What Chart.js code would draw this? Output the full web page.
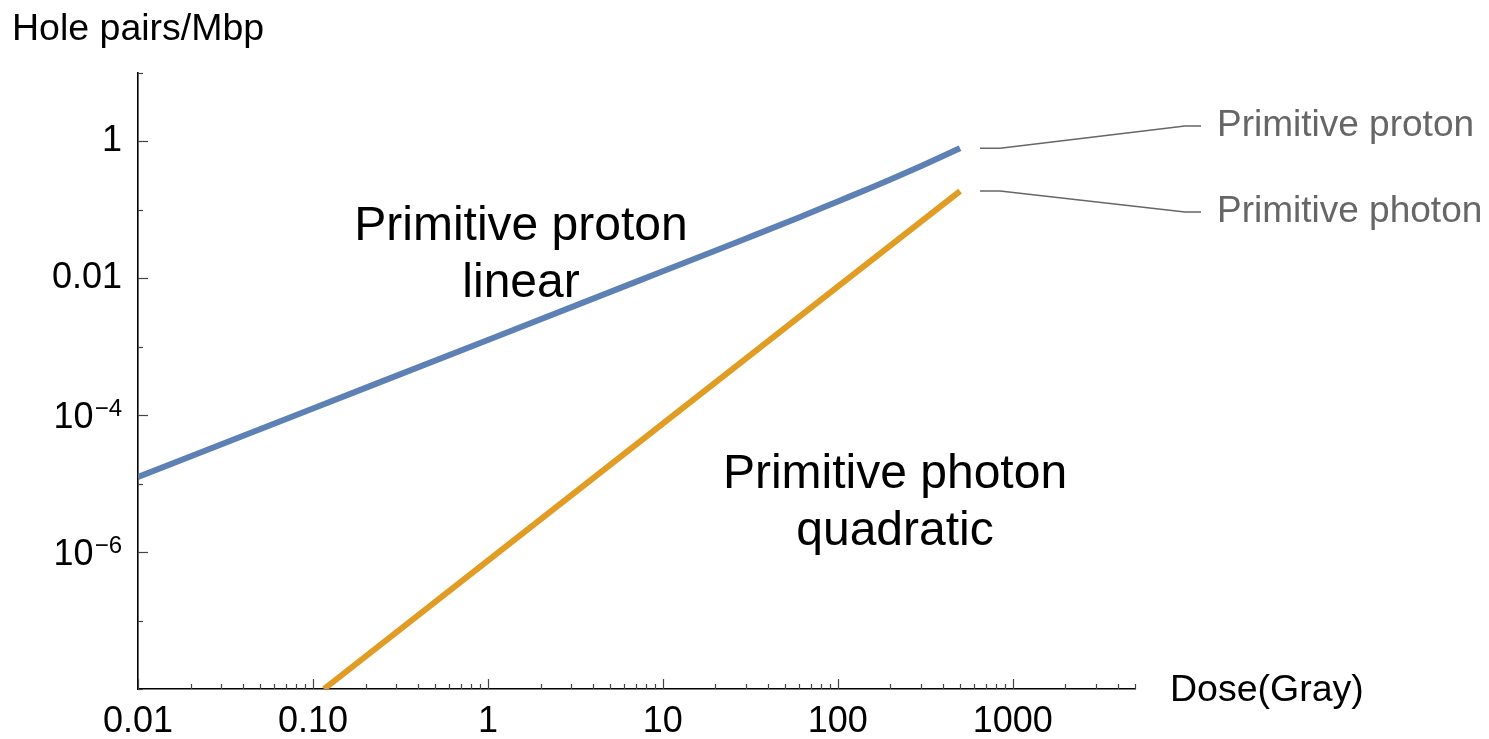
<!DOCTYPE html>
<html><head><meta charset="utf-8">
<script src="https://cdn.jsdelivr.net/npm/chart.js@4/dist/chart.umd.min.js"></script>
<style>html,body{margin:0;padding:0;background:#fff}canvas{display:block}</style>
</head><body>
<canvas id="c" width="1489" height="739"></canvas>
<script>
// ---- data ----
const doseProton  = [0.01, 0.1, 1, 10, 30, 60, 100, 150, 200, 300, 400, 500];
const holesProton = [1.25e-5, 1.25e-4, 1.25e-3, 0.0126, 0.038, 0.077, 0.132, 0.202, 0.276, 0.434, 0.606, 0.79];
const dosePhoton  = [0.1156, 1, 10, 100, 500];
const holesPhoton = [1e-8, 7.5e-7, 7.5e-5, 7.5e-3, 0.187];

const seriesNames = ['Primitive proton', 'Primitive photon'];
const xMajorTicks = [0.01, 0.1, 1, 10, 100, 1000];
const xTickLabels = ['0.01', '0.10', '1', '10', '100', '1000'];
const yMajorTicks = [1e-6, 1e-4, 1e-2, 1];
const yTickLabels = ['10^-6', '10^-4', '0.01', '1'];
const yMinorTicks = [1e-8, 1e-7, 1e-5, 1e-3, 0.1, 10];
const xRange = [0.01, 5000];
const yRange = [1e-8, 10];

const FONT = "'Liberation Sans', Arial, sans-serif";
const BLUE = '#5E81B5', ORANGE = '#E19C24';
const SUP = {'-': '\u207B', '0': '\u2070', '1': '\u00B9', '2': '\u00B2', '3': '\u00B3', '4': '\u2074', '5': '\u2075', '6': '\u2076', '7': '\u2077', '8': '\u2078', '9': '\u2079'};

const xAllTicks = [];
for (let e = -2; e <= 3; e++) for (let m = 1; m <= 9; m++) {
  const v = +(m * Math.pow(10, e)).toPrecision(6);
  if (v <= xRange[1]) xAllTicks.push(v);
}
const yAllTicks = [...yMinorTicks, ...yMajorTicks].sort((a, b) => a - b);
const near = (a, b) => Math.abs(a - b) / b < 1e-6;
const isDecade = v => Math.abs(Math.log10(v) - Math.round(Math.log10(v))) < 1e-9;
const yLabelRaw = v => { const i = yMajorTicks.findIndex(m => near(v, m)); return i >= 0 ? yTickLabels[i] : ''; };
const toUnicode = s => s.includes('^') ? s.split('^')[0] + s.split('^')[1].split('').map(ch => SUP[ch] || ch).join('') : s;

const decorations = {
  id: 'decorations',
  afterDraw(chart) {
    const {ctx, chartArea: a, scales: {x, y}} = chart;
    ctx.save();
    // inward ticks
    ctx.strokeStyle = '#444';
    ctx.lineWidth = 1.2;
    x.ticks.forEach(t => {
      const px = Math.round(x.getPixelForValue(t.value)) + 0.5;
      const len = isDecade(t.value) ? 10 : 5;
      ctx.beginPath(); ctx.moveTo(px, a.bottom); ctx.lineTo(px, a.bottom - len); ctx.stroke();
    });
    y.ticks.forEach(t => {
      const py = Math.round(y.getPixelForValue(t.value)) + 0.5;
      const len = yMajorTicks.some(m => near(t.value, m)) ? 10 : 5;
      ctx.beginPath(); ctx.moveTo(a.left, py); ctx.lineTo(a.left + len, py); ctx.stroke();
    });

    // power-of-ten tick labels with real superscripts
    ctx.fillStyle = '#000';
    ctx.textBaseline = 'alphabetic';
    ctx.textAlign = 'right';
    y.ticks.forEach(t => {
      const raw = yLabelRaw(t.value);
      if (!raw.includes('^')) return;
      const [base, exp] = raw.split('^');
      const py = y.getPixelForValue(t.value);
      const expText = exp.replace('-', '\u2212');
      const right = a.left - 16;
      ctx.font = '24px ' + FONT;
      const ew = ctx.measureText(expText).width;
      ctx.fillText(expText, right, py + 1);
      ctx.font = '36px ' + FONT;
      ctx.fillText(base, right - ew - 1, py + 13);
    });

    // axis titles
    ctx.textAlign = 'left';
    ctx.font = '37.5px ' + FONT;
    ctx.fillText('Hole pairs/Mbp', 12, 40);
    ctx.fillText('Dose(Gray)', 1170, 701);

    // in-plot annotations
    ctx.font = '48px ' + FONT;
    ctx.textAlign = 'center';
    ctx.fillText('Primitive proton', 521, 240);
    ctx.fillText('linear', 521, 297);
    ctx.fillText('Primitive photon', 895, 488);
    ctx.fillText('quadratic', 895, 545);

    // right-side labels with leader lines
    const ends = chart.data.datasets.map(ds => {
      const p = ds.data[ds.data.length - 1];
      return {px: x.getPixelForValue(p.x), py: y.getPixelForValue(p.y)};
    });
    const labelY = [126, 212];
    ctx.strokeStyle = '#666';
    ctx.lineWidth = 1.5;
    ctx.font = '37px ' + FONT;
    ctx.textAlign = 'left';
    ctx.textBaseline = 'middle';
    ctx.fillStyle = '#666';
    ends.forEach((e, i) => {
      const sx = e.px + 20;
      ctx.beginPath();
      ctx.moveTo(sx, e.py);
      ctx.lineTo(sx + 20, e.py);
      ctx.lineTo(1185, labelY[i]);
      ctx.lineTo(1201, labelY[i]);
      ctx.stroke();
      ctx.fillText(seriesNames[i], 1217, labelY[i]);
    });
    ctx.restore();
  }
};

new Chart(document.getElementById('c'), {
  type: 'line',
  data: {
    datasets: [
      {
        label: seriesNames[0],
        data: doseProton.map((d, i) => ({x: d, y: holesProton[i]})),
        borderColor: BLUE, borderWidth: 6, pointRadius: 0,
        cubicInterpolationMode: 'monotone', fill: false
      },
      {
        label: seriesNames[1],
        data: dosePhoton.map((d, i) => ({x: d, y: holesPhoton[i]})),
        borderColor: ORANGE, borderWidth: 6, pointRadius: 0,
        tension: 0, fill: false
      }
    ]
  },
  options: {
    responsive: false,
    animation: false,
    devicePixelRatio: 1,
    layout: {padding: {top: 72.7, right: 354, bottom: 0, left: 0}},
    plugins: {legend: {display: false}, tooltip: {enabled: false}},
    scales: {
      x: {
        type: 'logarithmic', min: xRange[0], max: xRange[1],
        afterBuildTicks: s => { s.ticks = xAllTicks.map(v => ({value: v})); },
        afterFit: s => { s.height = 50; },
        grid: {display: false, drawTicks: false},
        border: {display: true, color: '#000', width: 1.6},
        ticks: {
          autoSkip: false, maxRotation: 0, minRotation: 0, padding: 11,
          color: '#000', font: {family: FONT, size: 36},
          callback: v => { const i = xMajorTicks.findIndex(m => near(v, m)); return i >= 0 ? xTickLabels[i] : ''; }
        }
      },
      y: {
        type: 'logarithmic', min: yRange[0], max: yRange[1],
        afterBuildTicks: s => { s.ticks = yAllTicks.map(v => ({value: v})); },
        afterFit: s => { s.width = 138; },
        grid: {display: false, drawTicks: false},
        border: {display: true, color: '#000', width: 1.6},
        ticks: {
          autoSkip: false, padding: 16,
          color: c => (c.tick && yLabelRaw(c.tick.value).includes('^')) ? 'rgba(0,0,0,0)' : '#000',
          font: {family: FONT, size: 36},
          callback: v => toUnicode(yLabelRaw(v))
        }
      }
    }
  },
  plugins: [decorations]
});
</script>
</body></html>
